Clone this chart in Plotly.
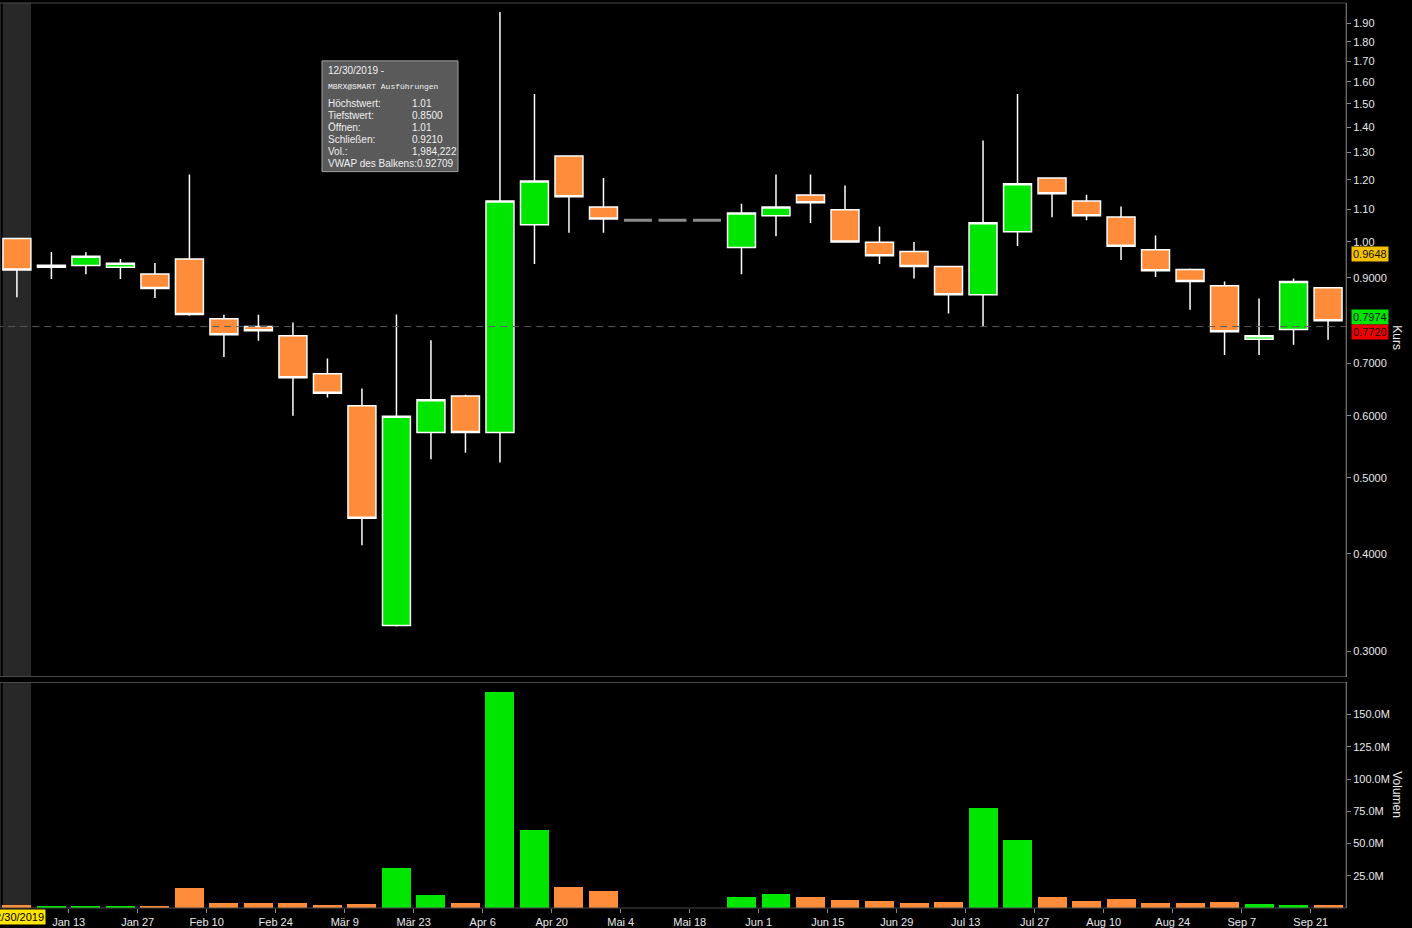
import math
import plotly.graph_objects as go

# ---------------- data ----------------
weeks = ["2019-12-30", "2020-01-06", "2020-01-13", "2020-01-20", "2020-01-27",
         "2020-02-03", "2020-02-10", "2020-02-17", "2020-02-24", "2020-03-02",
         "2020-03-09", "2020-03-16", "2020-03-23", "2020-03-30", "2020-04-06",
         "2020-04-13", "2020-04-20", "2020-04-27", "2020-05-04", "2020-05-11",
         "2020-05-18", "2020-05-25", "2020-06-01", "2020-06-08", "2020-06-15",
         "2020-06-22", "2020-06-29", "2020-07-06", "2020-07-13", "2020-07-20",
         "2020-07-27", "2020-08-03", "2020-08-10", "2020-08-17", "2020-08-24",
         "2020-08-31", "2020-09-07", "2020-09-14", "2020-09-21"]

open_ = [1.01, 0.928, 0.933, 0.928, 0.910, 0.951, 0.798, 0.780, 0.759, 0.679,
         0.618, 0.324, 0.571, 0.636, 0.571, 1.052, 1.287, 1.108, 1.066, 1.066,
         1.066, 0.984, 1.080, 1.148, 1.099, 0.999, 0.972, 0.930, 0.856, 1.030,
         1.207, 1.128, 1.076, 0.977, 0.922, 0.879, 0.751, 0.773, 0.874]
high = [1.01, 0.971, 0.970, 0.951, 0.940, 1.219, 0.807, 0.807, 0.789, 0.710,
        0.650, 0.808, 0.749, 0.638, 1.966, 1.544, 1.290, 1.207, 1.066, 1.066,
        1.066, 1.119, 1.219, 1.219, 1.180, 1.046, 1.000, 0.932, 1.347, 1.545,
        1.209, 1.149, 1.110, 1.019, 0.925, 0.890, 0.847, 0.898, 0.876]
low = [0.85, 0.897, 0.909, 0.897, 0.848, 0.805, 0.713, 0.748, 0.600, 0.633,
       0.410, 0.323, 0.528, 0.538, 0.523, 0.937, 1.027, 1.027, 1.066, 1.066,
       1.066, 0.909, 1.017, 1.057, 0.998, 0.937, 0.898, 0.810, 0.779, 0.988,
       1.075, 1.066, 0.948, 0.902, 0.819, 0.717, 0.717, 0.739, 0.750]
close = [0.921, 0.934, 0.959, 0.939, 0.872, 0.808, 0.761, 0.770, 0.671, 0.641,
         0.444, 0.599, 0.629, 0.571, 1.128, 1.196, 1.142, 1.070, 1.066, 1.066,
         1.066, 1.089, 1.108, 1.122, 1.000, 0.960, 0.930, 0.856, 1.058, 1.186,
         1.152, 1.080, 0.987, 0.919, 0.890, 0.768, 0.759, 0.890, 0.793]
volume_m = [1.984222, 1.2, 1.0, 1.0, 1.5, 15.1, 3.5, 3.5, 3.5, 2.0,
            2.7, 30.6, 9.7, 3.5, 166.8, 60.0, 15.9, 12.8, 0, 0,
            0, 8.1, 10.4, 8.1, 5.8, 5.0, 3.5, 4.3, 77.0, 52.2,
            8.1, 5.0, 6.6, 3.5, 3.5, 4.3, 2.7, 2.0, 1.9]
no_trade = [False] * 18 + [True, True, True] + [False] * 18

tick_weeks = ["2020-01-13", "2020-01-27", "2020-02-10", "2020-02-24", "2020-03-09",
              "2020-03-23", "2020-04-06", "2020-04-20", "2020-05-04", "2020-05-18",
              "2020-06-01", "2020-06-15", "2020-06-29", "2020-07-13", "2020-07-27",
              "2020-08-10", "2020-08-24", "2020-09-07", "2020-09-21"]
tick_text = ["Jan 13", "Jan 27", "Feb 10", "Feb 24", "Mär 9", "Mär 23", "Apr 6",
             "Apr 20", "Mai 4", "Mai 18", "Jun 1", "Jun 15", "Jun 29", "Jul 13",
             "Jul 27", "Aug 10", "Aug 24", "Sep 7", "Sep 21"]

price_ticks = [0.3, 0.4, 0.5, 0.6, 0.7, 0.9, 1.0, 1.1, 1.2, 1.3, 1.4, 1.5, 1.6, 1.7, 1.8, 1.9]
price_tick_text = ["0.3000", "0.4000", "0.5000", "0.6000", "0.7000", "0.9000", "1.00",
                   "1.10", "1.20", "1.30", "1.40", "1.50", "1.60", "1.70", "1.80", "1.90"]
vol_ticks = [25e6, 50e6, 75e6, 100e6, 125e6, 150e6]
vol_tick_text = ["25.0M", "50.0M", "75.0M", "100.0M", "125.0M", "150.0M"]

ref_line = 0.7797
tag_values = [0.9648, 0.7974, 0.7720]
tag_text = ["0.9648", "0.7974", "0.7720"]

tooltip_labels = ["Höchstwert:", "Tiefstwert:", "Öffnen:", "Schließen:", "Vol.:"]
tooltip_values = ["1.01", "0.8500", "1.01", "0.9210", "1,984,222"]

# ---------------- styling ----------------
GREEN = "#00e600"
ORANGE = "#ff8c3a"
FONT = "Liberation Sans"
TXT = "#e8e8e8"

PW, PTOP, PBOT = 1346, 3, 910
PH = PBOT - PTOP


def fx(px):
    return px / PW


def fy(py):
    return (PBOT - py) / PH


price_dom = [fy(678), 1.0]
vol_dom = [0.0, fy(684)]

idx = list(range(len(weeks)))
trade_idx = [i for i in idx if not no_trade[i]]
flat_idx = [i for i in idx if no_trade[i]]

fig = go.Figure()

fig.add_trace(go.Candlestick(
    x=trade_idx,
    open=[open_[i] for i in trade_idx],
    high=[high[i] for i in trade_idx],
    low=[low[i] for i in trade_idx],
    close=[close[i] for i in trade_idx],
    increasing=dict(fillcolor=GREEN, line=dict(color="white", width=1.5)),
    decreasing=dict(fillcolor=ORANGE, line=dict(color="white", width=1.5)),
    whiskerwidth=0, xaxis="x", yaxis="y", hoverinfo="skip",
))
fig.add_trace(go.Candlestick(
    x=flat_idx,
    open=[open_[i] for i in flat_idx],
    high=[high[i] for i in flat_idx],
    low=[low[i] for i in flat_idx],
    close=[close[i] for i in flat_idx],
    increasing=dict(fillcolor="#8a8a8a", line=dict(color="#8a8a8a", width=3)),
    decreasing=dict(fillcolor="#8a8a8a", line=dict(color="#8a8a8a", width=3)),
    whiskerwidth=0, xaxis="x", yaxis="y", hoverinfo="skip",
))
fig.add_trace(go.Scatter(
    x=[-0.6, len(weeks) - 0.4], y=[ref_line, ref_line], mode="lines",
    line=dict(color="#5a5a5a", width=1, dash="7px,5px"),
    xaxis="x", yaxis="y", hoverinfo="skip",
))

vol_colors = [GREEN if c > o else ORANGE for o, c in zip(open_, close)]
fig.add_trace(go.Bar(
    x=idx, y=[v * 1e6 for v in volume_m], marker=dict(color=vol_colors, line=dict(width=0)),
    width=0.84, xaxis="x", yaxis="y2", hoverinfo="skip",
))

tickvals = [weeks.index(d) - 0.5 for d in tick_weeks]

fig.update_layout(
    width=1412, height=928,
    paper_bgcolor="black", plot_bgcolor="black",
    margin=dict(l=0, r=1412 - PW, t=PTOP, b=928 - PBOT),
    showlegend=False,
    boxgap=0.19,
    boxgroupgap=0,
    bargap=0,
    xaxis=dict(
        range=[-0.49, 38.52], tickvals=tickvals, ticktext=tick_text,
        ticks="outside", ticklen=4, tickcolor="#8a8a8a",
        tickfont=dict(family=FONT, size=11, color=TXT),
        showgrid=False, zeroline=False, showline=False,
        rangeslider=dict(visible=False), anchor="y2", fixedrange=True,
    ),
    yaxis=dict(
        domain=price_dom, type="log",
        range=[math.log10(0.2788), math.log10(2.018)],
        side="right", anchor="x",
        tickvals=price_ticks, ticktext=price_tick_text,
        ticks="outside", ticklen=4, tickcolor="#8a8a8a",
        tickfont=dict(family=FONT, size=11, color=TXT),
        showline=True, linecolor="#8a8a8a", linewidth=1,
        showgrid=False, zeroline=False,
    ),
    yaxis2=dict(
        domain=vol_dom, range=[0, 174.9e6],
        side="right", anchor="x",
        tickvals=vol_ticks, ticktext=vol_tick_text,
        ticks="outside", ticklen=4, tickcolor="#8a8a8a",
        tickfont=dict(family=FONT, size=11, color=TXT),
        showline=True, linecolor="#8a8a8a", linewidth=1,
        showgrid=False, zeroline=False,
    ),
)

shapes = []
# highlighted column (crosshair on first bar)
for dom in (price_dom, vol_dom):
    shapes.append(dict(type="rect", xref="x", yref="paper", x0=-0.41, x1=0.41,
                       y0=dom[0], y1=dom[1], fillcolor="#282828", line=dict(width=0),
                       layer="below"))
    shapes.append(dict(type="rect", xref="paper", yref="paper", x0=0, x1=1,
                       y0=dom[0], y1=dom[1], line=dict(color="#4a4a4a", width=1),
                       fillcolor="rgba(0,0,0,0)", layer="above"))
# tooltip box
shapes.append(dict(type="rect", xref="paper", yref="paper",
                   x0=fx(322), x1=fx(458), y0=fy(172), y1=fy(61),
                   fillcolor="#5a5a5a", line=dict(color="#a0a0a0", width=1), layer="above"))
fig.update_layout(shapes=shapes)

ann = []
tt_font = dict(family=FONT, size=10, color="#f0f0f0")
ann.append(dict(xref="paper", yref="paper", x=fx(326), y=fy(71), text="12/30/2019 -",
                showarrow=False, xanchor="left", yanchor="middle", font=tt_font))
ann.append(dict(xref="paper", yref="paper", x=fx(326), y=fy(87),
                text="MBRX@SMART Ausführungen", showarrow=False, xanchor="left",
                yanchor="middle", font=dict(family="Liberation Mono", size=8, color="#f0f0f0")))
for k, (lab, val) in enumerate(zip(tooltip_labels, tooltip_values)):
    yy = 104 + 12 * k
    ann.append(dict(xref="paper", yref="paper", x=fx(326), y=fy(yy), text=lab,
                    showarrow=False, xanchor="left", yanchor="middle", font=tt_font))
    ann.append(dict(xref="paper", yref="paper", x=fx(410), y=fy(yy), text=val,
                    showarrow=False, xanchor="left", yanchor="middle", font=tt_font))
ann.append(dict(xref="paper", yref="paper", x=fx(326), y=fy(164),
                text="VWAP des Balkens:0.92709", showarrow=False, xanchor="left",
                yanchor="middle", font=tt_font))

# date crosshair label
ann.append(dict(xref="x", yref="paper", x=0, y=fy(919), text="12/30/2019",
                showarrow=False, xanchor="center", yanchor="middle",
                bgcolor="#ffe500", font=dict(family=FONT, size=11, color="black"),
                borderpad=1))

# price tags on the right axis
tag_bg = ["#f5c000", "#00e600", "#ee0000"]
tag_shift = [0, 2, -2]
for v, t, bg, sh in zip(tag_values, tag_text, tag_bg, tag_shift):
    ann.append(dict(xref="paper", yref="y", x=fx(1351), y=math.log10(v), text=t,
                    showarrow=False, xanchor="left", yanchor="middle", yshift=sh,
                    bgcolor=bg, font=dict(family=FONT, size=11, color="#111111"),
                    borderpad=1))

# axis titles (rotated clockwise)
ann.append(dict(xref="paper", yref="paper", x=fx(1397), y=fy(338), text="Kurs",
                showarrow=False, textangle=90, xanchor="center", yanchor="middle",
                font=dict(family=FONT, size=12, color=TXT)))
ann.append(dict(xref="paper", yref="paper", x=fx(1397), y=fy(796), text="Volumen",
                showarrow=False, textangle=90, xanchor="center", yanchor="middle",
                font=dict(family=FONT, size=12, color=TXT)))
fig.update_layout(annotations=ann)

fig.write_html("out.html",
               config={"displayModeBar": False},
               post_script="document.body.style.margin='0px';document.body.style.overflow='hidden';")
